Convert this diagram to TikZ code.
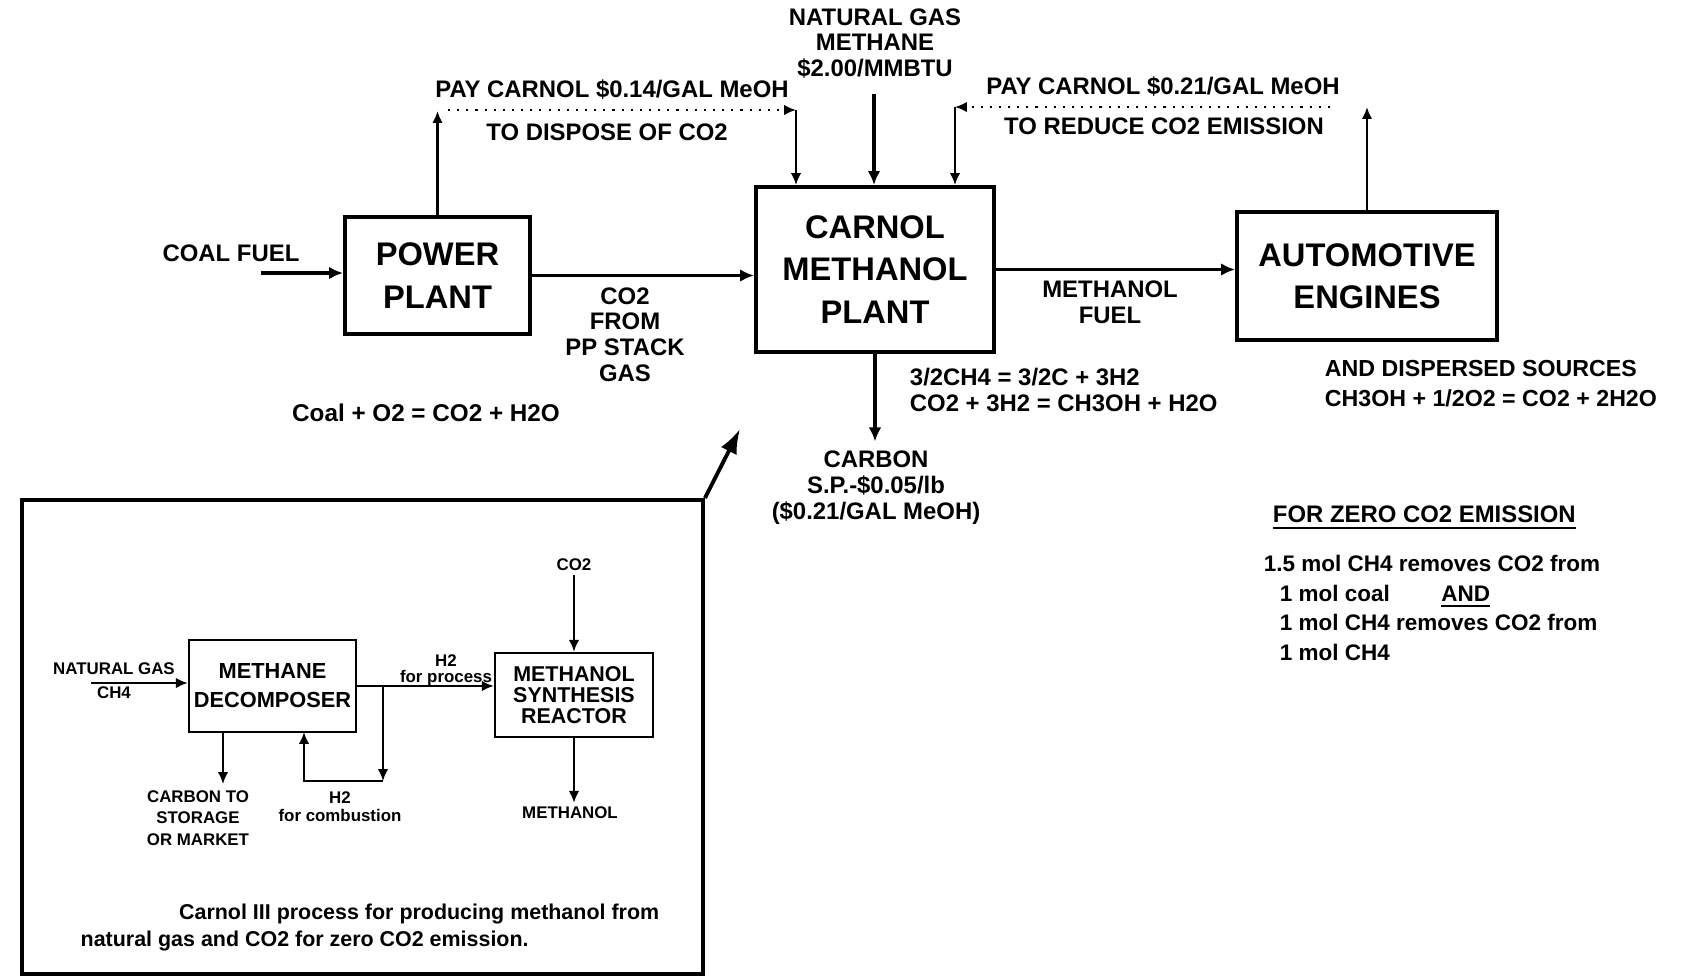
\documentclass[tikz,border=0pt]{standalone}
\usepackage{fontspec}
\setmainfont{Liberation Sans}
\usetikzlibrary{arrows.meta,positioning}

\begin{document}
\begin{tikzpicture}[
            plant/.style={
                    draw=black,
                    line width=1.1pt,
                    rectangle,
                    inner sep=0pt,
                    align=center,
                    font=\fontsize{9.3}{12}\selectfont\bfseries
                },
            unit/.style={
                    draw=black,
                    line width=0.7pt,
                    rectangle,
                    inner sep=0pt,
                    align=center,
                    font=\fontsize{6.1}{7.6}\selectfont\bfseries
                },
            label/.style={
                    inner sep=1.5pt,
                    align=center,
                    font=\fontsize{6.8}{7.3}\selectfont\bfseries
                },
            tag/.style={
                    inner sep=1pt,
                    align=center,
                    font=\fontsize{4.8}{6.1}\selectfont\bfseries
                },
            flow/.style={
            -{Latex[length=4pt,width=3.6pt]},
            line width=1.1pt
            },
            feed/.style={
            -{Latex[length=3.4pt,width=3pt]},
            line width=0.6pt
            },
            money/.style={
            -{Latex[length=3.4pt,width=3pt]},
            dotted,
            line width=0.6pt
            }
            ]
            \useasboundingbox (0,0) rectangle (16.82,-9.78);

            % Hauptprozess
            \node[plant, minimum width=1.85cm, minimum height=1.17cm] (pp)
            at (4.375,-2.755) {POWER\\PLANT};
            \node[plant, minimum width=2.38cm, minimum height=1.65cm] (cmp)
            at (8.75,-2.695) {CARNOL\\METHANOL\\PLANT};
            \node[plant, minimum width=2.60cm, minimum height=1.28cm] (auto)
            at (13.67,-2.76) {AUTOMOTIVE\\ENGINES};

            \node[label] (coal) at (2.31,-2.53) {COAL FUEL};
            \coordinate (coalIn) at (2.61,-2.73);
            \draw[flow] (coalIn) -- (coalIn -| pp.west);

            \draw[flow] (pp.east) -- (pp.east -| cmp.west);
            \node[label] (stack) at (6.25,-3.345)
            {CO2\\FROM\\PP STACK\\GAS};

            \draw[flow] (cmp.east) -- (cmp.east -| auto.west);
            \node[label] (fuel) at (11.10,-3.025) {METHANOL\\FUEL};

            % Erdgas von oben
            \node[label] (gas) at (8.75,-0.435)
            {NATURAL GAS\\METHANE\\\$2.00/MMBTU};
            \coordinate (gasIn) at (8.74,-0.94);
            \draw[flow, line width=1.4pt] (gasIn) -- (gasIn |- cmp.north);

            % Zahlungen
            \coordinate (payL) at (4.34,-1.11);
            \coordinate (payLa) at (4.48,-1.10);
            \coordinate (payLb) at (7.96,-1.10);
            \draw[feed, line width=0.7pt] (pp.north) -- (pp.north |- payL);
            \draw[money] (payLa) -- (payLb);
            \draw[feed, line width=0.7pt] (payLb) -- (payLb |- cmp.north);
            \node[label] (payOne) at (6.12,-0.90)
            {PAY CARNOL \$0.14/GAL MeOH};
            \node[label] (dispose) at (6.07,-1.32) {TO DISPOSE OF CO2};

            \coordinate (payRa) at (13.30,-1.07);
            \coordinate (payRb) at (9.55,-1.07);
            \draw[money] (payRa) -- (payRb);
            \draw[feed, line width=0.7pt] (payRb) -- (payRb |- cmp.north);
            \node[label] (payTwo) at (11.63,-0.87)
            {PAY CARNOL \$0.21/GAL MeOH};
            \node[label] (reduce) at (11.64,-1.26)
            {TO REDUCE CO2 EMISSION};

            \coordinate (autoOut) at (13.67,-1.07);
            \draw[feed, line width=0.7pt] (auto.north) -- (autoOut);

            % Kohlenstoff nach unten
            \node[label, inner sep=2.5pt] (carbon) at (8.76,-4.875)
            {CARBON\\S.P.-\$0.05/lb\\(\$0.21/GAL MeOH)};
            \draw[flow] (cmp.south) -- (cmp.south |- carbon.north);

            % Gleichungen
            \node[label, align=left, anchor=west] (eqCmp) at (9.04,-3.90)
            {3/2CH4 = 3/2C + 3H2\\CO2 + 3H2 = CH3OH + H2O};
            \node[label, font=\fontsize{6.9}{7.3}\selectfont\bfseries] (eqCoal)
            at (4.26,-4.13) {Coal + O2 = CO2 + H2O};
            \node[label, align=left, anchor=west,
            font=\fontsize{6.6}{8.5}\selectfont\bfseries] (eqAuto) at (13.19,-3.84)
            {AND DISPERSED SOURCES\\CH3OH + 1/2O2 = CO2 + 2H2O};

            % Bilanz
            \node[label, anchor=west] (zeroHead) at (12.67,-5.18)
            {\underline{FOR ZERO CO2 EMISSION}};
            \node[label, align=left, anchor=west,
            font=\fontsize{6.4}{8.5}\selectfont\bfseries] (zeroText) at (12.58,-6.08)
            {1.5 mol CH4 removes CO2 from\\
                \hspace*{4.5pt}\makebox[46pt][l]{1 mol coal}\underline{AND}\\
                \hspace*{4.5pt}1 mol CH4 removes CO2 from\\
                \hspace*{4.5pt}1 mol CH4};

            % Einschub: Carnol III
            \node[draw=black, line width=1.1pt, rectangle, inner sep=0pt,
            minimum width=6.81cm, minimum height=4.74cm] (inset)
            at (3.625,-7.37) {};
            \coordinate (insetTip) at (7.40,-4.29);
            \draw[-{Latex[length=7pt,width=5pt]}, line width=1.1pt]
            (inset.north east) -- (insetTip);

            \node[unit, minimum width=1.67cm, minimum height=0.92cm,
            font=\fontsize{6.2}{8.2}\selectfont\bfseries] (md)
            at (2.725,-6.86) {METHANE\\DECOMPOSER};
            \node[unit, minimum width=1.58cm, minimum height=0.84cm,
            font=\fontsize{6.1}{6}\selectfont\bfseries] (msr)
            at (5.74,-6.95) {METHANOL\\SYNTHESIS\\REACTOR};

            \node[tag, font=\fontsize{4.8}{7}\selectfont\bfseries] (ngIn)
            at (1.14,-6.805) {NATURAL GAS\\CH4};
            \coordinate (ngStart) at (0.91,-6.83);
            \draw[feed] (ngStart) -- (ngStart -| md.west);

            \draw[feed] (md.east) -- (md.east -| msr.west);
            \node[tag, font=\fontsize{4.8}{4.6}\selectfont\bfseries] (h2proc)
            at (4.46,-6.70) {H2\\for process};

            \coordinate (junction) at (3.83,-6.86);
            \coordinate (recycle) at (3.83,-7.81);
            \coordinate (recycleIn) at (3.04,-7.32);
            \draw[feed] (junction) -- (recycle);
            \draw[feed] (recycle) -| (recycleIn);
            \node[tag, font=\fontsize{4.8}{5.1}\selectfont\bfseries] (h2comb)
            at (3.40,-8.07) {H2\\for combustion};

            \coordinate (carbonOut) at (2.23,-7.84);
            \draw[feed] (carbonOut |- md.south) -- (carbonOut);
            \node[tag] (store) at (1.98,-8.18)
            {CARBON TO\\STORAGE\\OR MARKET};

            \node[tag] (co2In) at (5.74,-5.65) {CO2};
            \draw[feed] (co2In.south) -- (co2In.south |- msr.north);
            \node[tag] (meoh) at (5.70,-8.13) {METHANOL};
            \draw[feed] (msr.south) -- (msr.south |- meoh.north);

            \node[align=left, anchor=west, inner sep=0pt,
            font=\fontsize{6.1}{7.7}\selectfont\bfseries] (caption) at (0.80,-9.275)
            {\hspace*{28pt}Carnol III process for producing methanol from\\
                natural gas and CO2 for zero CO2 emission.};

        \end{tikzpicture}
\end{document}
